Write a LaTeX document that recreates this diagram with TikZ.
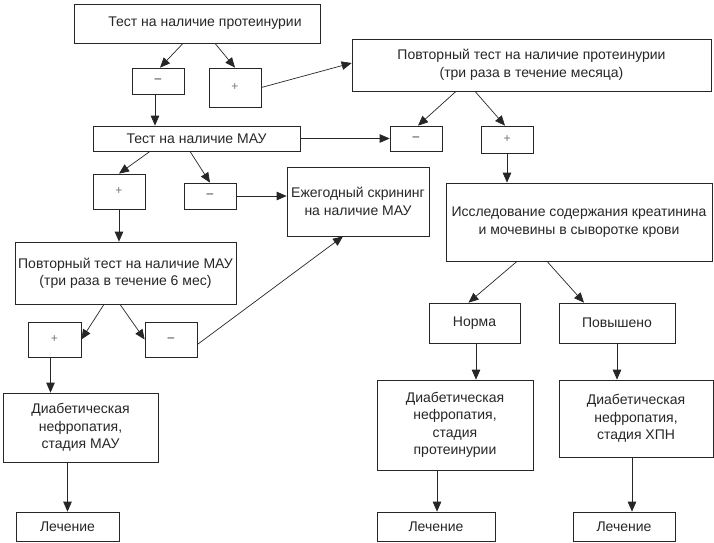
\documentclass[tikz,border=0pt]{standalone}
\usepackage{fontspec}
\setmainfont{Liberation Sans}
\usepackage{tikz}
\usetikzlibrary{arrows.meta}

\begin{document}
\begin{tikzpicture}[x=1pt, y=-1pt,
    box/.style={draw=black!85, line width=0.7pt, align=center, inner sep=0pt,
        text=black!85, font=\fontsize{14}{17.5}\selectfont},
    sign/.style={box, font=\fontsize{12}{14}\selectfont},
    arr/.style={draw=black!85, line width=0.7pt, -{Triangle[length=10pt,width=8.5pt]}}]
    \useasboundingbox (0,0) rectangle (714,542);

    % Left branch: first tests
    \node[box, minimum width=246, minimum height=39] (test) at (197,23.5) {\hspace{16pt}Тест на наличие протеинурии};
    \node[sign, minimum width=52, minimum height=26] (negA) at (158,81) {--};
    \node[sign, minimum width=52, minimum height=39, text=black!55] (posA) at (235,87.5) {+};
    \node[box, minimum width=207, minimum height=25] (mau) at (196.5,138.5) {Тест на наличие МАУ};
    \node[sign, minimum width=52, minimum height=35, text=black!55] (posM) at (119,191.5) {+};
    \node[sign, minimum width=52, minimum height=26] (negM) at (210,196) {--};
    \node[box, minimum width=142, minimum height=69] (annual) at (358,201.5) {Ежегодный скрининг\\на наличие МАУ};
    \node[box, minimum width=221, minimum height=62] (repM) at (125.5,273) {Повторный тест на наличие МАУ\\(три раза в течение 6 мес)};
    \node[sign, minimum width=53, minimum height=35, text=black!55] (posRM) at (54.5,339.5) {+};
    \node[sign, minimum width=52, minimum height=35] (negRM) at (171,339.5) {--};
    \node[box, minimum width=155, minimum height=69] (dnMAU) at (80.5,427.5) {Диабетическая\\нефропатия,\\стадия МАУ};
    \node[box, minimum width=103, minimum height=29] (treat1) at (67.5,526.5) {Лечение};

    % Right branch: repeated protein test
    \node[box, minimum width=359, minimum height=52] (rep) at (531.5,65) {Повторный тест на наличие протеинурии\\(три раза в течение месяца)};
    \node[sign, minimum width=52, minimum height=25] (negR) at (416,138.5) {--};
    \node[sign, minimum width=52, minimum height=27, text=black!55] (posR) at (507,139.5) {+};
    \node[box, minimum width=266, minimum height=78] (res) at (579,222) {Исследование содержания креатинина\\и мочевины в сыворотке крови};
    \node[box, minimum width=91, minimum height=40] (norm) at (474.5,323) {Норма};
    \node[box, minimum width=116, minimum height=40] (high) at (617,323) {Повышено};
    \node[box, minimum width=156, minimum height=90] (dnProt) at (455,425) {Диабетическая\\нефропатия,\\стадия\\протеинурии};
    \node[box, minimum width=154, minimum height=77] (dnCHN) at (636,418.5) {Диабетическая\\нефропатия,\\стадия ХПН};
    \node[box, minimum width=118, minimum height=29] (treat2) at (436,526.5) {Лечение};
    \node[box, minimum width=102, minimum height=29] (treat3) at (624,526.5) {Лечение};

    % Connectors, left
    \draw[arr] ([xshift=-14pt]test.south) -- ([xshift=2pt]negA.north);
    \draw[arr] ([xshift=18pt]test.south) -- (posA.north);
    \draw[arr] ([xshift=-3pt]negA.south) -- ([xshift=-3pt]negA.south |- mau.north);
    \draw[arr] (posA.east) -- ([yshift=2pt]rep.west);
    \draw[arr] (mau.east) -- (negR.west);
    \draw[arr] ([xshift=-46.5pt]mau.south) -- (posM.north);
    \draw[arr] ([xshift=-6.5pt]mau.south) -- (negM.north);
    \draw[arr] (negM.east) -- (negM.east -| annual.west);
    \draw[arr] (posM.south) -- (posM.south |- repM.north);
    \draw[arr] ([xshift=-21.5pt]repM.south) -- (posRM.east);
    \draw[arr] ([xshift=-5.5pt]repM.south) -- (negRM.west);
    \draw[arr] ([yshift=-5pt]negRM.east) -- ([xshift=-15pt]annual.south);
    \draw[arr] ([xshift=-4pt]posRM.south) -- ([xshift=-4pt]posRM.south |- dnMAU.north);
    \draw[arr] (treat1.north |- dnMAU.south) -- (treat1.north);

    % Connectors, right
    \draw[arr] ([xshift=-75.5pt]rep.south) -- ([xshift=2pt]negR.north);
    \draw[arr] ([xshift=-56.5pt]rep.south) -- ([xshift=-2pt]posR.north);
    \draw[arr] (posR.south) -- (posR.south |- res.north);
    \draw[arr] ([xshift=-62pt]res.south) -- ([xshift=-6pt]norm.north);
    \draw[arr] ([xshift=-32pt]res.south) -- ([xshift=-33pt]high.north);
    \draw[arr] ([xshift=1.5pt]norm.south) -- ([xshift=1.5pt]norm.south |- dnProt.north);
    \draw[arr] (high.south) -- (high.south |- dnCHN.north);
    \draw[arr] ([xshift=1pt]treat2.north |- dnProt.south) -- ([xshift=1pt]treat2.north);
    \draw[arr] ([xshift=8pt]treat3.north |- dnCHN.south) -- ([xshift=8pt]treat3.north);
\end{tikzpicture}
\end{document}
